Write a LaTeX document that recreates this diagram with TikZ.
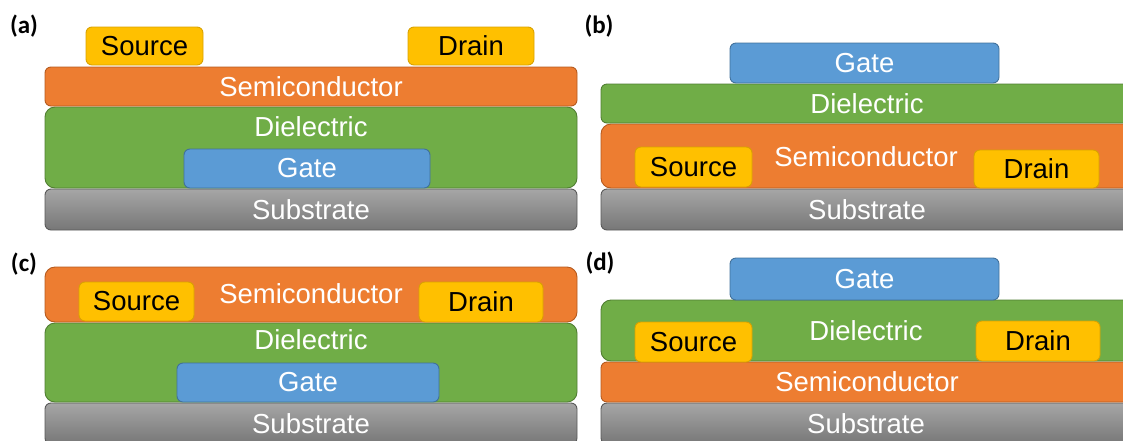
\documentclass[tikz,border=0pt]{standalone}
\usepackage{fontspec}
\setmainfont{Liberation Sans}
\newfontfamily\tagfont{Carlito}
\definecolor{semiC}{HTML}{ED7D31}
\definecolor{semiD}{HTML}{B55A1E}
\definecolor{dielC}{HTML}{70AD47}
\definecolor{dielD}{HTML}{507E32}
\definecolor{gateC}{HTML}{5B9BD5}
\definecolor{gateD}{HTML}{41719C}
\definecolor{sdC}{HTML}{FFC000}
\definecolor{sdD}{HTML}{D9A200}
\definecolor{subTop}{HTML}{A6A6A6}
\definecolor{subBot}{HTML}{777777}
\definecolor{subD}{HTML}{595959}
\begin{document}
\begin{tikzpicture}[x=1pt,y=-1pt,
  layer/.style={draw, rounded corners=6pt, inner sep=0pt, line width=0.9pt,
    font=\fontsize{27.5}{30}\selectfont},
  semi/.style={layer, fill=semiC, draw=semiD, text=white},
  diel/.style={layer, fill=dielC, draw=dielD, text=white},
  gatebox/.style={layer, fill=gateC, draw=gateD, text=white},
  sd/.style={layer, fill=sdC, draw=sdD, text=black},
  sub/.style={layer, top color=subTop, bottom color=subBot, draw=subD, text=white},
  wtxt/.style={inner sep=0pt, text=white, font=\fontsize{27.5}{30}\selectfont},
  tag/.style={inner sep=0pt, font=\tagfont\bfseries\fontsize{25}{28}\selectfont}]
\useasboundingbox (0,0) rectangle (1123,440);
\clip (0,0) rectangle (1123,440);

% ---------- (a) bottom gate, top contact ----------
\node[tag] (ta) at (24,26) {(a)};
\node[sub, minimum width=532pt, minimum height=41pt] (asub) at (311,209.5) {Substrate};
\node[diel, rounded corners=10pt, minimum width=532pt, minimum height=81pt] (adiel) at (311,147.5) {};
\node[wtxt] (adielt) at (311,127) {Dielectric};
\node[gatebox, minimum width=246pt, minimum height=39pt] (agate) at (307,168.5) {Gate};
\node[semi, minimum width=532pt, minimum height=39pt] (asemi) at (311,86.5) {Semiconductor};
\node[sd, minimum width=117pt, minimum height=38pt] (asrc) at (144.5,46) {Source};
\node[sd, minimum width=126pt, minimum height=38pt] (adrn) at (471,46) {Drain};

% ---------- (b) top gate, bottom contact ----------
\node[tag] (tb) at (599,26.5) {(b)};
\node[sub, minimum width=532pt, minimum height=41pt] (bsub) at (867,209.5) {Substrate};
\node[semi, rounded corners=10pt, minimum width=532pt, minimum height=64pt] (bsemi) at (867,156) {};
\node[wtxt] (bsemit) at (866,157) {Semiconductor};
\node[sd, minimum width=117pt, minimum height=40pt] (bsrc) at (693.5,167) {Source};
\node[sd, minimum width=125pt, minimum height=38pt] (bdrn) at (1036.5,169) {Drain};
\node[diel, minimum width=532pt, minimum height=39pt] (bdiel) at (867,103.5) {Dielectric};
\node[gatebox, minimum width=269pt, minimum height=40pt] (bgate) at (864.5,63) {Gate};

% ---------- (c) bottom gate, bottom contact ----------
\node[tag] (tc) at (24,264) {(c)};
\node[sub, minimum width=532pt, minimum height=41pt] (csub) at (311,423.5) {};
\node[wtxt] (csubt) at (311,424) {Substrate};
\node[diel, rounded corners=10pt, minimum width=532pt, minimum height=79pt] (cdiel) at (311,362.5) {};
\node[wtxt] (cdielt) at (311,340) {Dielectric};
\node[gatebox, minimum width=262pt, minimum height=39pt] (cgate) at (308,382.5) {Gate};
\node[semi, rounded corners=10pt, minimum width=532pt, minimum height=55pt] (csemi) at (311,294.5) {};
\node[wtxt] (csemit) at (311,294) {Semiconductor};
\node[sd, minimum width=115pt, minimum height=39pt] (csrc) at (136.5,301.5) {Source};
\node[sd, minimum width=124pt, minimum height=40pt] (cdrn) at (481,302) {Drain};

% ---------- (d) top gate, top contact ----------
\node[tag] (td) at (600,263) {(d)};
\node[sub, minimum width=532pt, minimum height=41pt] (dsub) at (867,423.5) {};
\node[wtxt] (dsubt) at (866,424) {Substrate};
\node[semi, minimum width=532pt, minimum height=40pt] (dsemi) at (867,382) {Semiconductor};
\node[diel, rounded corners=10pt, minimum width=532pt, minimum height=61pt] (ddiel) at (867,330.5) {};
\node[wtxt] (ddielt) at (866,331) {Dielectric};
\node[sd, minimum width=117pt, minimum height=40pt] (dsrc) at (693.5,342) {Source};
\node[sd, minimum width=124pt, minimum height=40pt] (ddrn) at (1038,341) {Drain};
\node[gatebox, minimum width=269pt, minimum height=42pt] (dgate) at (864.5,279) {Gate};
\end{tikzpicture}
\end{document}
